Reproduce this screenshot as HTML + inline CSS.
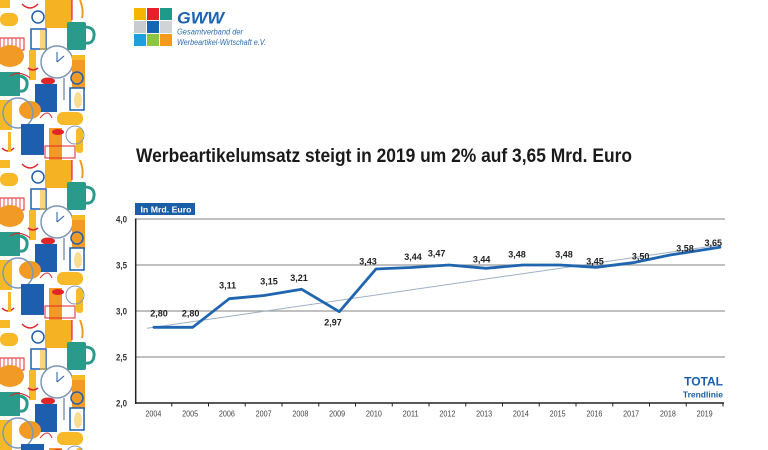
<!DOCTYPE html>
<html>
<head>
<meta charset="utf-8">
<style>
html,body{margin:0;padding:0;background:#fff;}
svg{display:block;}
text{font-family:"Liberation Sans",Arial,sans-serif;}
</style>
</head>
<body>
<svg width="768" height="450" viewBox="0 0 768 450" xmlns="http://www.w3.org/2000/svg">
<defs>
<pattern id="tile" x="0" y="0" width="100" height="160" patternUnits="userSpaceOnUse">
  <rect x="0" y="0" width="100" height="160" fill="#fff"/>
  <rect x="45" y="0" width="27" height="28" fill="#f5b323"/>
  <rect x="0" y="13" width="18" height="13" rx="6" fill="#f7b928"/>
  <path d="M22 4 Q30 12 38 4" stroke="#e0262b" stroke-width="1.5" fill="none"/>
  <path d="M72 0 L72 20" stroke="#e0262b" stroke-width="1.2"/>
  <path d="M80 0 Q84 10 82 18" stroke="#f29a26" stroke-width="2" fill="none"/>
  <circle cx="38" cy="17" r="6" stroke="#1d5fae" stroke-width="1.5" fill="none"/>
  <rect x="31" y="29" width="15" height="20" fill="#fff" stroke="#1d5fae" stroke-width="1.5"/>
  <rect x="67" y="22" width="19" height="28" rx="2" fill="#2a9b8b"/>
  <path d="M86 27 Q95 28 94 36 Q93 44 86 43" stroke="#2a9b8b" stroke-width="3" fill="none"/>
  <rect x="0" y="38" width="24" height="12" fill="#fff" stroke="#e0262b" stroke-width="1"/>
  <path d="M4 38 V50 M8 38 V50 M12 38 V50 M16 38 V50 M20 38 V50" stroke="#e0262b" stroke-width="0.8"/>
  <ellipse cx="10" cy="56" rx="14" ry="11" fill="#f29a26"/>
  <rect x="29" y="50" width="7" height="30" fill="#f7b928"/>
  <path d="M28 68 Q33 72 38 68" stroke="#e0262b" stroke-width="1.5" fill="none"/>
  <circle cx="57" cy="62" r="16" stroke="#7d97b8" stroke-width="1.5" fill="#fff"/>
  <path d="M57 62 L64 56 M57 62 L57 52" stroke="#1d5fae" stroke-width="1"/>
  <rect x="72" y="57" width="13" height="33" fill="#f29a26"/>
  <rect x="72" y="55" width="13" height="5" fill="#f7b928"/>
  <path d="M64 78 L64 100" stroke="#7d97b8" stroke-width="1.5"/>
  <rect x="0" y="72" width="20" height="24" fill="#2a9b8b"/>
  <path d="M20 76 Q28 78 27 85 Q26 92 20 91" stroke="#2a9b8b" stroke-width="3" fill="none"/>
  <path d="M10 76 Q20 70 30 78" stroke="#e0262b" stroke-width="1" fill="none"/>
  <ellipse cx="48" cy="81" rx="7" ry="3.5" fill="#e0262b"/>
  <rect x="35" y="84" width="22" height="28" fill="#1d5fae"/>
  <circle cx="77" cy="78" r="6" stroke="#1d5fae" stroke-width="1.5" fill="none"/>
  <rect x="70" y="88" width="14" height="22" fill="#fff" stroke="#1d5fae" stroke-width="1.5"/>
  <rect x="0" y="100" width="12" height="30" fill="#f7b928"/>
  <ellipse cx="30" cy="110" rx="11" ry="9" fill="#f29a26"/>
  <circle cx="18" cy="113" r="15" stroke="#7d97b8" stroke-width="1.5" fill="none"/>
  <rect x="57" y="112" width="26" height="13" rx="6" fill="#f7b928"/>
  <path d="M40 118 Q48 108 52 118" stroke="#e0262b" stroke-width="1" fill="none"/>
  <rect x="21" y="124" width="23" height="31" fill="#1d5fae"/>
  <rect x="49" y="128" width="13" height="32" fill="#f29a26"/>
  <ellipse cx="58" cy="132" rx="6" ry="3" fill="#e0262b"/>
  <rect x="76" y="128" width="7" height="25" rx="3" fill="#f7b928"/>
  <circle cx="75" cy="135" r="9" stroke="#7d97b8" stroke-width="1" fill="none"/>
  <rect x="45" y="146" width="30" height="12" fill="none" stroke="#e0262b" stroke-width="1"/>
  <path d="M2 148 Q8 154 14 148" stroke="#e0262b" stroke-width="1.5" fill="none"/>
  <rect x="8" y="132" width="3" height="20" fill="#f7b928"/>
  <rect x="0" y="0" width="10" height="8" fill="#f7b928"/>
  <rect x="40" y="30" width="6" height="20" fill="#f7b928" opacity="0.6"/>
  <ellipse cx="78" cy="100" rx="4" ry="8" fill="#f7b928" opacity="0.5"/>
</pattern>
</defs>

<!-- decorative strip -->
<rect x="0" y="0" width="96" height="450" fill="url(#tile)"/>

<!-- logo -->
<rect x="134" y="8" width="12" height="12" fill="#f4b400"/>
<rect x="147" y="8" width="12" height="12" fill="#e3212b"/>
<rect x="160" y="8" width="12" height="12" fill="#1d9a8a"/>
<rect x="134" y="21" width="12" height="12" fill="#c8cbd0"/>
<rect x="147" y="21" width="12" height="12" fill="#1565b5"/>
<rect x="160" y="21" width="12" height="12" fill="#d0d3d8"/>
<rect x="134" y="34" width="12" height="12" fill="#1ea0df"/>
<rect x="147" y="34" width="12" height="12" fill="#8cc63f"/>
<rect x="160" y="34" width="12" height="12" fill="#f59a1a"/>
<text x="177" y="23.3" font-size="17" font-weight="bold" font-style="italic" fill="#1d63b0" textLength="47" lengthAdjust="spacingAndGlyphs">GWW</text>
<text x="177" y="34.5" font-size="8" font-style="italic" fill="#2f6db3" textLength="66" lengthAdjust="spacingAndGlyphs">Gesamtverband der</text>
<text x="177" y="45" font-size="8" font-style="italic" fill="#2f6db3" textLength="89" lengthAdjust="spacingAndGlyphs">Werbeartikel-Wirtschaft e.V.</text>

<!-- title -->
<text x="136" y="162" font-size="19.5" font-weight="bold" fill="#1a1a1a" textLength="496" lengthAdjust="spacingAndGlyphs">Werbeartikelumsatz steigt in 2019 um 2% auf 3,65 Mrd. Euro</text>

<!-- unit box -->
<rect x="135" y="203" width="60" height="12" fill="#1a5ea8"/>
<text x="140.5" y="212.3" font-size="8.7" font-weight="bold" fill="#fff" textLength="51" lengthAdjust="spacingAndGlyphs">In Mrd. Euro</text>

<!-- gridlines -->
<g stroke="#9a9a9a" stroke-width="1.2">
  <line x1="136" y1="219" x2="725" y2="219"/>
  <line x1="136" y1="265" x2="725" y2="265"/>
  <line x1="136" y1="311" x2="725" y2="311"/>
  <line x1="136" y1="357" x2="725" y2="357"/>
</g>

<!-- axes -->
<line x1="135.7" y1="218.5" x2="135.7" y2="404" stroke="#222" stroke-width="1.5"/>
<line x1="135" y1="403" x2="724" y2="403" stroke="#222" stroke-width="1.5"/>
<g stroke="#222" stroke-width="1">
  <line x1="171.75" y1="403" x2="171.75" y2="406.5"/>
  <line x1="208.5" y1="403" x2="208.5" y2="406.5"/>
  <line x1="245.25" y1="403" x2="245.25" y2="406.5"/>
  <line x1="282" y1="403" x2="282" y2="406.5"/>
  <line x1="318.75" y1="403" x2="318.75" y2="406.5"/>
  <line x1="355.5" y1="403" x2="355.5" y2="406.5"/>
  <line x1="392.25" y1="403" x2="392.25" y2="406.5"/>
  <line x1="429" y1="403" x2="429" y2="406.5"/>
  <line x1="465.75" y1="403" x2="465.75" y2="406.5"/>
  <line x1="502.5" y1="403" x2="502.5" y2="406.5"/>
  <line x1="539.25" y1="403" x2="539.25" y2="406.5"/>
  <line x1="576" y1="403" x2="576" y2="406.5"/>
  <line x1="612.75" y1="403" x2="612.75" y2="406.5"/>
  <line x1="649.5" y1="403" x2="649.5" y2="406.5"/>
  <line x1="686.25" y1="403" x2="686.25" y2="406.5"/>
  <line x1="723" y1="403" x2="723" y2="406.5"/>
</g>

<!-- y labels -->
<g font-size="9" font-weight="bold" fill="#333" text-anchor="end">
  <text x="127" y="222.3" textLength="11" lengthAdjust="spacingAndGlyphs">4,0</text>
  <text x="127" y="268.3" textLength="11" lengthAdjust="spacingAndGlyphs">3,5</text>
  <text x="127" y="314.3" textLength="11" lengthAdjust="spacingAndGlyphs">3,0</text>
  <text x="127" y="360.3" textLength="11" lengthAdjust="spacingAndGlyphs">2,5</text>
  <text x="127" y="406.3" textLength="11" lengthAdjust="spacingAndGlyphs">2,0</text>
</g>

<!-- x labels -->
<g font-size="8.5" fill="#444" text-anchor="middle">
  <text x="153.4" y="416.5" textLength="16" lengthAdjust="spacingAndGlyphs">2004</text>
  <text x="190.1" y="416.5" textLength="16" lengthAdjust="spacingAndGlyphs">2005</text>
  <text x="226.9" y="416.5" textLength="16" lengthAdjust="spacingAndGlyphs">2006</text>
  <text x="263.6" y="416.5" textLength="16" lengthAdjust="spacingAndGlyphs">2007</text>
  <text x="300.4" y="416.5" textLength="16" lengthAdjust="spacingAndGlyphs">2008</text>
  <text x="337.1" y="416.5" textLength="16" lengthAdjust="spacingAndGlyphs">2009</text>
  <text x="373.9" y="416.5" textLength="16" lengthAdjust="spacingAndGlyphs">2010</text>
  <text x="410.6" y="416.5" textLength="16" lengthAdjust="spacingAndGlyphs">2011</text>
  <text x="447.4" y="416.5" textLength="16" lengthAdjust="spacingAndGlyphs">2012</text>
  <text x="484.1" y="416.5" textLength="16" lengthAdjust="spacingAndGlyphs">2013</text>
  <text x="520.9" y="416.5" textLength="16" lengthAdjust="spacingAndGlyphs">2014</text>
  <text x="557.6" y="416.5" textLength="16" lengthAdjust="spacingAndGlyphs">2015</text>
  <text x="594.4" y="416.5" textLength="16" lengthAdjust="spacingAndGlyphs">2016</text>
  <text x="631.1" y="416.5" textLength="16" lengthAdjust="spacingAndGlyphs">2017</text>
  <text x="667.9" y="416.5" textLength="16" lengthAdjust="spacingAndGlyphs">2018</text>
  <text x="704.6" y="416.5" textLength="16" lengthAdjust="spacingAndGlyphs">2019</text>
</g>

<!-- trend line -->
<line x1="147" y1="328.3" x2="720" y2="245" stroke="#9fb0c4" stroke-width="1"/>

<!-- data line -->
<polyline fill="none" stroke="#1f65b0" stroke-width="2.8" stroke-linejoin="round" stroke-linecap="round"
  points="154,327.3 192.7,327.3 229.3,298.7 264,295.5 301.7,289.3 339.3,311.7 376,269 411,267.5 449,265 486,268.3 523,265 560,265 596,267.3 633,262.7 670,255 720,247.3"/>

<!-- data labels -->
<g font-size="9" font-weight="bold" fill="#222" text-anchor="middle">
  <text x="159" y="316.3">2,80</text>
  <text x="190.7" y="316.3">2,80</text>
  <text x="227.7" y="288.3">3,11</text>
  <text x="269" y="284.3">3,15</text>
  <text x="299" y="281">3,21</text>
  <text x="333" y="325.3">2,97</text>
  <text x="368" y="264.3">3,43</text>
  <text x="413" y="260">3,44</text>
  <text x="436.7" y="256.6">3,47</text>
  <text x="481.7" y="262.6">3,44</text>
  <text x="517" y="257.6">3,48</text>
  <text x="564" y="257.6">3,48</text>
  <text x="595" y="264.3">3,45</text>
  <text x="640.7" y="259.3">3,50</text>
  <text x="685" y="251.6">3,58</text>
  <text x="713.3" y="246">3,65</text>
</g>

<!-- legend -->
<text x="723" y="385.7" font-size="12" font-weight="bold" fill="#1a5ea8" text-anchor="end">TOTAL</text>
<text x="723" y="397.3" font-size="8.5" font-weight="bold" fill="#1a5ea8" text-anchor="end">Trendlinie</text>
</svg>
</body>
</html>
